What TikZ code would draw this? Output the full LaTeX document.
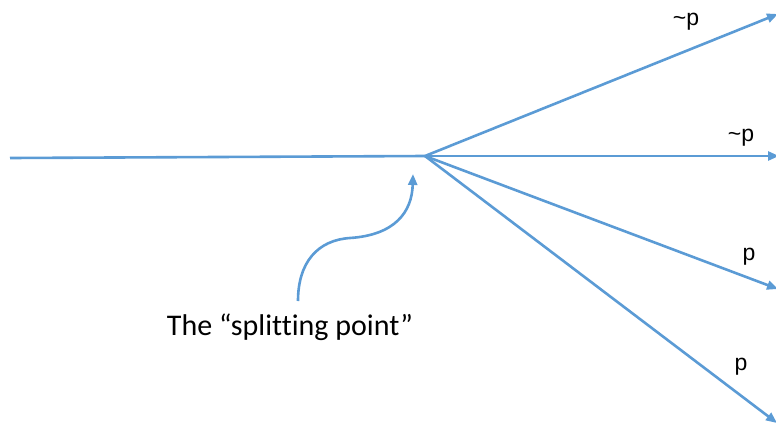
\documentclass[tikz,border=0pt]{standalone}
\usepackage{fontspec}
\setmainfont{Carlito}[Ligatures=NoCommon]
\newfontfamily\labelfont{Liberation Sans}
\usetikzlibrary{arrows.meta}
\definecolor{lineblue}{RGB}{91,155,213}
\tikzset{
  ray/.style={draw=lineblue, line width=2.6pt, -{Triangle[length=11pt,width=9pt]}},
  plain/.style={draw=lineblue, line width=2.6pt},
  raylabel/.style={font=\labelfont\fontsize{23}{27}\selectfont, inner sep=0pt}
}
\begin{document}
\begin{tikzpicture}[x=1pt, y=-1pt]
  \useasboundingbox (0,0) rectangle (776,426);
  % incoming line and the point where it splits
  \coordinate (start) at (10,158);
  \coordinate (split) at (425,156);
  % ends of the four outgoing rays
  \coordinate (e1) at (778,14);
  \coordinate (e2) at (779,156);
  \coordinate (e3) at (778,289);
  \coordinate (e4) at (777,423);
  \draw[plain] (start) -- (split);
  \draw[ray] (split) -- (e1);
  \draw[ray] (split) -- (e2);
  \draw[ray] (split) -- (e3);
  \draw[ray] (split) -- (e4);
  % ray labels
  \node[raylabel] (l1) at (686,22) {\textasciitilde p};
  \node[raylabel] (l2) at (741,138) {\textasciitilde p};
  \node[raylabel] (l3) at (749,257) {p};
  \node[raylabel] (l4) at (741,367) {p};
  % caption with its pointer
  \node[font=\fontsize{30}{36}\selectfont, inner sep=0pt, anchor=base] (caption) at (290,335) {The “splitting point”};
  \coordinate (tail) at (298,301);
  \coordinate (tip) at (413,174);
  \draw[ray] (tail) .. controls (298,262) and (318,240) .. (350,238)
                    .. controls (395,235) and (412,212) .. (tip);
\end{tikzpicture}
\end{document}
